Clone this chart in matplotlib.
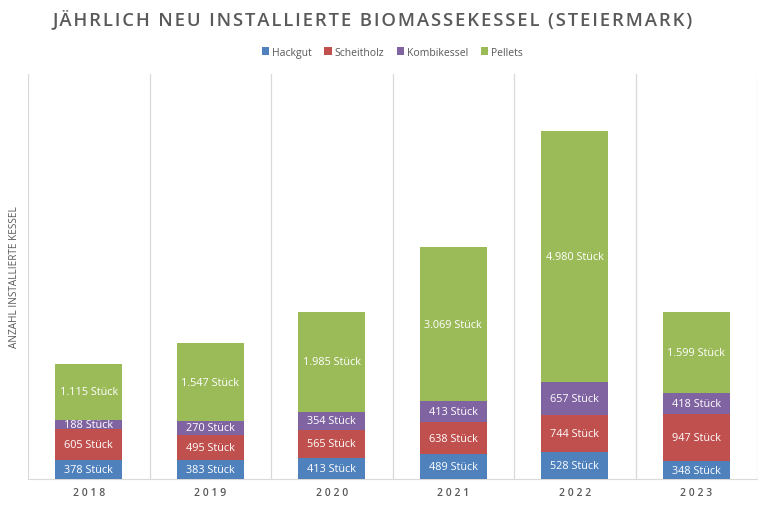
import numpy as np
import matplotlib.pyplot as plt

years = ["2018", "2019", "2020", "2021", "2022", "2023"]
hackgut = [378, 383, 413, 489, 528, 348]
scheitholz = [605, 495, 565, 638, 744, 947]
kombikessel = [188, 270, 354, 413, 657, 418]
pellets = [1115, 1547, 1985, 3069, 4980, 1599]

series = [
    ("Hackgut", hackgut, "#4F81BD"),
    ("Scheitholz", scheitholz, "#C0504D"),
    ("Kombikessel", kombikessel, "#8064A2"),
    ("Pellets", pellets, "#9BBB59"),
]


def fmt(v):
    # German thousands separator
    return f"{v:,}".replace(",", ".") + " Stück"


def main():
    plt.rcParams['font.family'] = ['Open Sans', 'DejaVu Sans']
    fig = plt.figure(figsize=(7.67, 5.10), dpi=100)
    ax = fig.add_axes([28 / 767, 1 - 480 / 510, (757 - 28) / 767, (480 - 75) / 510])

    x = np.arange(len(years))
    bottom = np.zeros(len(years))
    for name, vals, color in series:
        vals = np.array(vals)
        bars = ax.bar(x, vals, 0.55, bottom=bottom, color=color, label=name, zorder=3)
        for b, v, b0 in zip(bars, vals, bottom):
            ax.text(b.get_x() + b.get_width() / 2, b0 + v / 2, fmt(v),
                    ha="center", va="center", color="white", fontsize=7.8, zorder=4)
        bottom = bottom + vals

    ax.set_xlim(-0.5, len(years) - 0.5)
    ax.set_ylim(0, 8040)
    ax.set_yticks([])
    ax.set_xticks(x)
    ax.set_xticklabels([" ".join(y) for y in years], color="#595959", fontsize=7.5,
                       fontweight="semibold")
    ax.tick_params(axis="x", length=0, pad=6)
    for xv in np.arange(-0.5, len(years), 1.0):
        ax.axvline(xv, color="#D9D9D9", lw=0.9, zorder=1)
    for s in ["top", "right", "left"]:
        ax.spines[s].set_visible(False)
    ax.spines["bottom"].set_color("#D9D9D9")

    ax.set_ylabel("ANZAHL INSTALLIERTE KESSEL", color="#595959", fontsize=7.2, labelpad=6)

    title = "JÄHRLICH NEU INSTALLIERTE BIOMASSEKESSEL (STEIERMARK)"
    fig.text(373 / 767, 1 - 19 / 510, "\u200a".join(title),
             ha="center", va="center", fontsize=13.3, fontweight="semibold", color="#595959")

    ax.legend(loc="center", bbox_to_anchor=(0.5, 1 + 22 / 405), ncol=4, frameon=False,
              fontsize=7.5, handlelength=0.7, handleheight=0.7, handletextpad=0.3,
              columnspacing=1.2, labelcolor="#595959")

    fig.savefig("out.png", dpi=100, facecolor="white")


if __name__ == "__main__":
    main()
